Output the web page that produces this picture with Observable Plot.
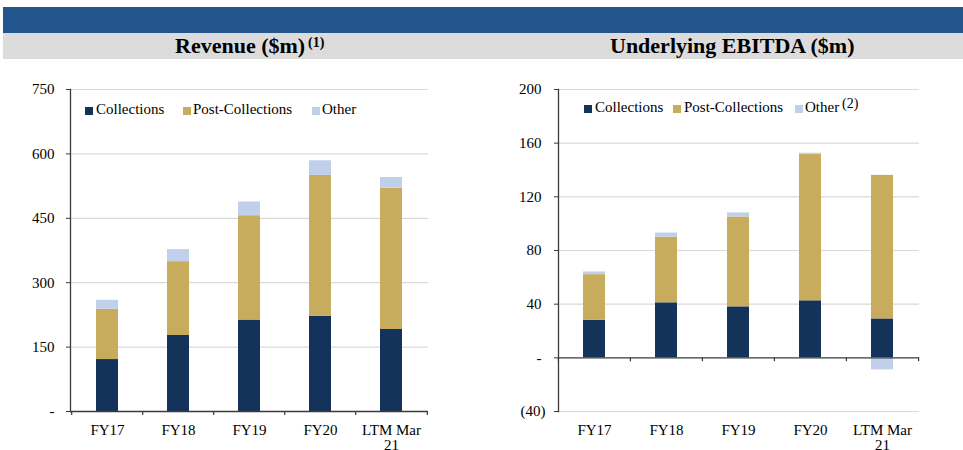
<!DOCTYPE html>
<html>
<head>
<meta charset="utf-8">
<script src="https://cdn.jsdelivr.net/npm/d3@7"></script>
<script src="https://cdn.jsdelivr.net/npm/@observablehq/plot@0.6"></script>
<style>
  body { margin: 0; background: #fff; font-family: "Liberation Serif", "Times New Roman", serif; }
  #wrap { position: relative; width: 963px; height: 450px; overflow: hidden; }
  .abs { position: absolute; }
  .band1 { left: 3px; top: 7px; width: 960px; height: 26px; background: #23568c; }
  .band2 { left: 3px; top: 33px; width: 960px; height: 26px; background: #dcdcdc; }
  .title { font-weight: bold; font-size: 22px; line-height: 22px; top: 35px; white-space: nowrap; color: #000; }
  .sup { font-weight: bold; font-size: 14px; line-height: 14px; top: 36px; white-space: nowrap; color: #000; }
  .sup2 { font-size: 14px; line-height: 14px; top: 97px; white-space: nowrap; color: #000; }
  .sw { width: 8px; height: 8px; }
  .lt { font-size: 15px; line-height: 15px; white-space: nowrap; color: #000; }
  .chart { top: 59px; }
  .legend { z-index: 2; }
  svg text { font-family: "Liberation Serif", "Times New Roman", serif; }
</style>
</head>
<body>
<div id="wrap">
  <div class="abs band1"></div>
  <div class="abs band2"></div>
  <div class="abs title" style="left:175px">Revenue ($m)</div>
  <div class="abs sup" style="left:308px">(1)</div>
  <div class="abs title" style="left:610px">Underlying EBITDA ($m)</div>
  <div id="c1" class="abs chart" style="left:0px"></div>
  <div id="c2" class="abs chart" style="left:480px"></div>
  <div id="leg1" class="abs legend" style="left:0;top:0"></div>
  <div id="leg2" class="abs legend" style="left:0;top:0"></div>
  <div class="abs sup2 legend" style="left:842px">(2)</div>
</div>
<script>
// ---- data ----
const categories = ["FY17", "FY18", "FY19", "FY20", "LTM Mar 21"];
const xTickLabels = ["FY17", "FY18", "FY19", "FY20", "LTM Mar\n21"];
const seriesNames = ["Collections", "Post-Collections", "Other"];
const seriesColors = ["#14335b", "#c6ac5c", "#c0cfea"];

const revCollections = [121, 177, 213, 222, 191];
const revPost = [117, 172, 243, 328, 329];
const revOther = [21, 28, 32, 34, 25];
const revTicks = [0, 150, 300, 450, 600, 750];

const ebitdaCollections = [28, 41, 38, 42.5, 29];
const ebitdaPost = [34, 49, 67, 109, 107];
const ebitdaOther = [2, 3, 3, 1, -9];
const ebitdaTicks = [-40, 0, 40, 80, 120, 160, 200];

function rows(a, b, c) {
  const out = [];
  [a, b, c].forEach((arr, si) => arr.forEach((v, i) => out.push({cat: categories[i], series: seriesNames[si], value: v})));
  return out;
}

const fmt = d => d === 0 ? "-" : d < 0 ? `(${-d})` : String(d);
const axisColor = "#3a3a3a";
const serif = "Liberation Serif, Times New Roman, serif";

function chart({data, ticks, width, marginLeft, marginRight, posPad, negPad}) {
  const plotW = width - marginLeft - marginRight;
  const step = plotW / categories.length;
  const lbl = new Map(categories.map((c, i) => [c, xTickLabels[i]]));
  const pos = ticks.filter(t => t >= 0);
  const neg = ticks.filter(t => t < 0);
  const yAxisOpts = {tickSize: 4, tickFormat: fmt, fontSize: 15, fontFamily: serif, stroke: axisColor, fill: "#000", label: null};
  return Plot.plot({
    width, height: 391, marginLeft, marginRight, marginTop: 30, marginBottom: 39,
    style: {fontFamily: serif, fontSize: "15px", color: "#000", background: "transparent"},
    x: {domain: categories, paddingInner: 0.69, paddingOuter: 0.345, axis: null, label: null},
    y: {domain: [ticks[0], ticks[ticks.length - 1]], axis: null, label: null},
    color: {domain: seriesNames, range: seriesColors},
    marks: [
      Plot.ruleY(ticks.filter(t => t !== 0), {stroke: "#d9d9d9", strokeWidth: 1.2}),
      Plot.barY(data, {x: "cat", y: "value", fill: "series"}),
      Plot.ruleY([0], {stroke: axisColor, strokeWidth: 1.3}),
      Plot.ruleX(categories, {x: d => d, y1: 0, y2: 0, dx: -step / 2, insetBottom: -4, stroke: axisColor, strokeWidth: 1.2}),
      Plot.ruleX(categories.slice(-1), {x: d => d, y1: 0, y2: 0, dx: step / 2, insetBottom: -4, stroke: axisColor, strokeWidth: 1.2}),
      Plot.frame({anchor: "left", stroke: axisColor, strokeWidth: 1.3}),
      Plot.axisY(pos, {...yAxisOpts, tickPadding: posPad}),
      neg.length ? Plot.axisY(neg, {...yAxisOpts, tickPadding: negPad}) : null,
      Plot.axisX({anchor: "bottom", tickSize: 0, tickPadding: 13, tickFormat: d => lbl.get(d), fontSize: 15, fontFamily: serif, fill: "#000", label: null})
    ]
  });
}

document.getElementById("c1").append(chart({
  data: rows(revCollections, revPost, revOther), ticks: revTicks,
  width: 480, marginLeft: 70, marginRight: 52, posPad: 12, negPad: 8
}));
document.getElementById("c2").append(chart({
  data: rows(ebitdaCollections, ebitdaPost, ebitdaOther), ticks: ebitdaTicks,
  width: 483, marginLeft: 78, marginRight: 44, posPad: 13, negPad: 9
}));

// legends
function legend(id, items, top) {
  const el = document.getElementById(id);
  items.forEach(([sx, tx], i) => {
    const sw = document.createElement("div");
    sw.className = "abs sw";
    sw.style.left = sx + "px"; sw.style.top = (top + 5) + "px";
    sw.style.background = seriesColors[i];
    el.append(sw);
    const t = document.createElement("div");
    t.className = "abs lt";
    t.style.left = tx + "px"; t.style.top = top + "px";
    t.textContent = seriesNames[i];
    el.append(t);
  });
}
legend("leg1", [[85, 96], [183, 193], [312, 322]], 101.5);
legend("leg2", [[584, 595], [673, 684], [795, 805]], 100);
</script>
</body>
</html>
